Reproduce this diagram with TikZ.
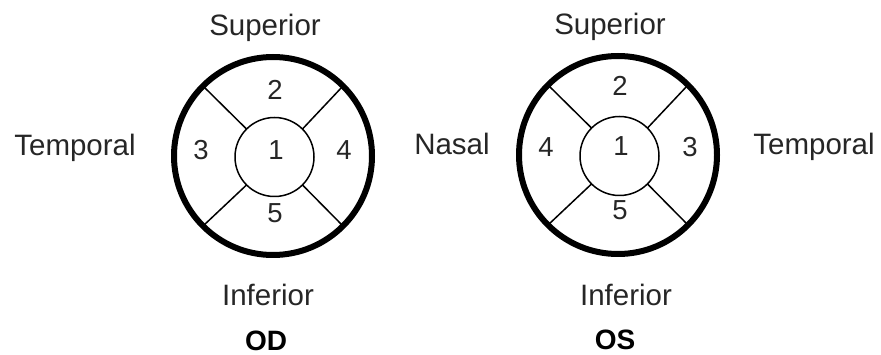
\documentclass[tikz,border=0pt]{standalone}
\usepackage{fontspec}
\setmainfont{Liberation Sans}
\begin{document}
\begin{tikzpicture}[x=1pt,y=-1pt,
 ring/.style={circle,draw,line width=6pt,minimum size=198pt,inner sep=0pt,outer sep=0pt},
 core/.style={circle,draw,line width=1.5pt,minimum size=79pt,inner sep=0pt,outer sep=0pt},
 spoke/.style={line width=1.5pt},
 lbl/.style={font=\fontsize{29.5}{30}\selectfont,text=black!85,inner sep=0pt,anchor=base},
 num/.style={font=\fontsize{27.5}{28}\selectfont,text=black!85,inner sep=0pt},
 eye/.style={font=\fontsize{28}{30}\selectfont\bfseries,inner sep=0pt,anchor=base}]
\useasboundingbox (0,0) rectangle (881,355);
% OD
\node[ring] (odR) at (273,156) {};
\node[core] (odC) at (274.5,157) {};
\foreach \a in {45,135,225,315} \draw[spoke] (odC.\a) -- (odR.\a);
\node[num] (od1) at (276,150) {1};
\node[num] (od2) at (275,90) {2};
\node[num] (od3) at (201,150) {3};
\node[num] (od4) at (344,150) {4};
\node[num] (od5) at (275,213) {5};
% OS
\node[ring] (osR) at (618,155) {};
\node[core] (osC) at (619.5,156) {};
\foreach \a in {45,135,225,315} \draw[spoke] (osC.\a) -- (osR.\a);
\node[num] (os1) at (621,146) {1};
\node[num] (os2) at (620,86) {2};
\node[num] (os4) at (546,147) {4};
\node[num] (os3) at (690,147) {3};
\node[num] (os5) at (620,210) {5};
% labels
\node[lbl] (odSup) at (265,36) {Superior};
\node[lbl] (osSup) at (610,35) {Superior};
\node[lbl] (odTmp) at (75,156) {Temporal};
\node[lbl] (nas) at (452,155) {Nasal};
\node[lbl] (osTmp) at (814,155) {Temporal};
\node[lbl] (odInf) at (268,306) {Inferior};
\node[lbl] (osInf) at (626,306) {Inferior};
\node[eye] (od) at (266,350) {OD};
\node[eye] (os) at (615,349) {OS};
\end{tikzpicture}
\end{document}
